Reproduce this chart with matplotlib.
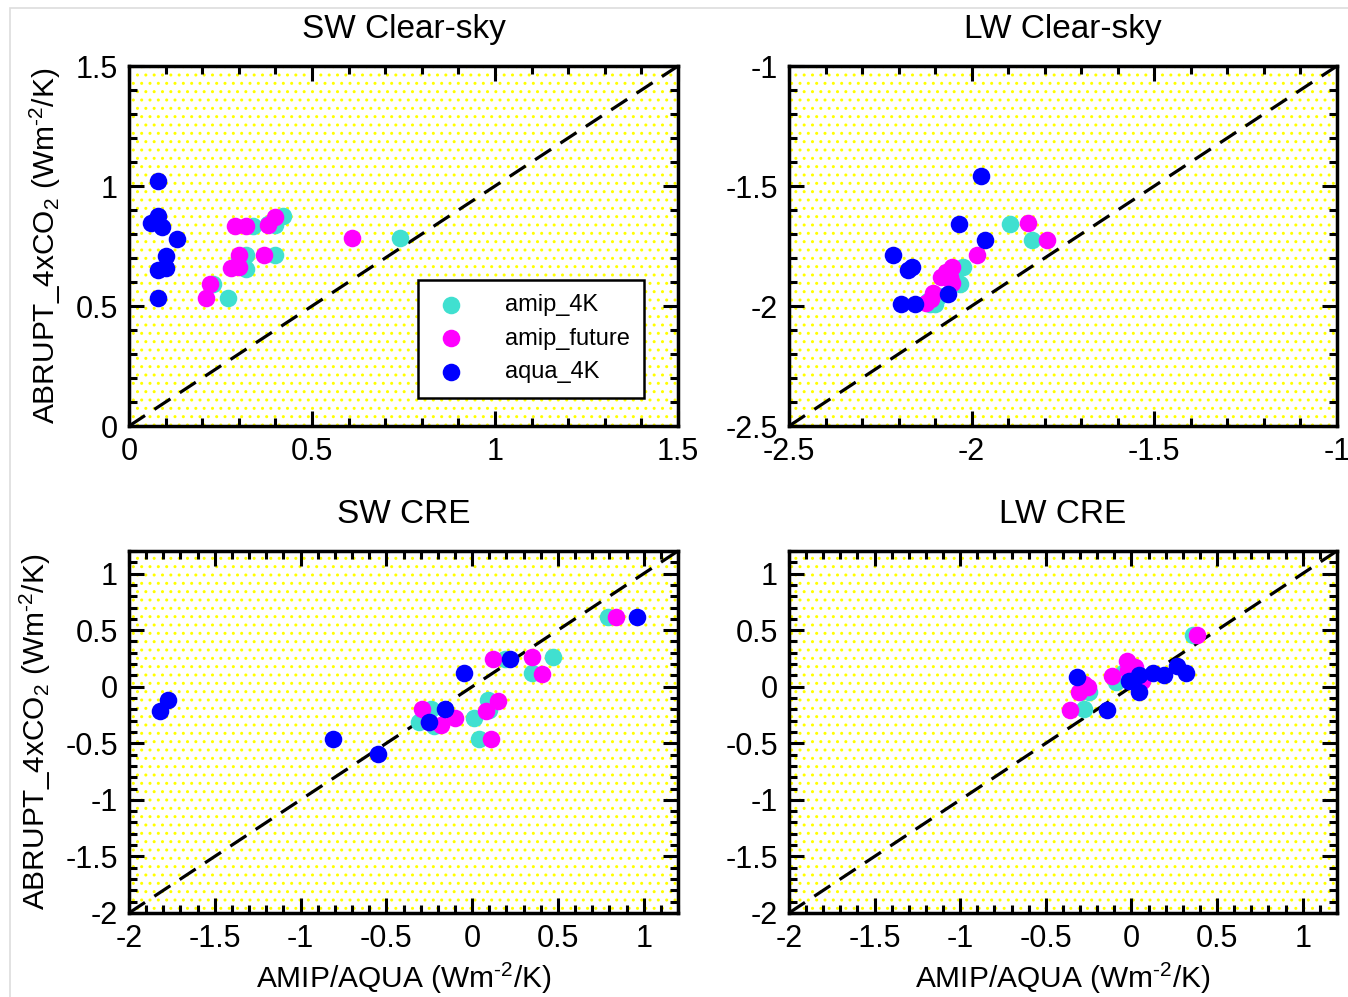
import matplotlib
matplotlib.use("Agg")
import matplotlib.pyplot as plt
from matplotlib.patches import Rectangle
from matplotlib.ticker import MultipleLocator, FormatStrFormatter

plt.rcParams['font.family'] = ['Liberation Sans', 'DejaVu Sans']
plt.rcParams['mathtext.fontset'] = 'custom'
plt.rcParams['mathtext.rm'] = 'Liberation Sans'
plt.rcParams['mathtext.it'] = 'Liberation Sans:italic'
plt.rcParams['axes.unicode_minus'] = False
plt.rcParams['hatch.linewidth'] = 1.0
plt.rcParams['hatch.color'] = '#ffff00'

# feedback parameters (W m-2 K-1): x = AMIP/AQUA, y = abrupt 4xCO2
sw_clr_amip4k_x = [0.42, 0.40, 0.34, 0.74, 0.32, 0.40, 0.32, 0.23, 0.27, 0.38, 0.30]
sw_clr_amip4k_y = [0.875, 0.837, 0.833, 0.782, 0.712, 0.712, 0.653, 0.592, 0.535, 0.84, 0.70]
sw_clr_future_x = [0.29, 0.32, 0.38, 0.40, 0.61, 0.30, 0.37, 0.30, 0.28, 0.22, 0.21]
sw_clr_future_y = [0.833, 0.833, 0.837, 0.872, 0.782, 0.712, 0.712, 0.664, 0.657, 0.592, 0.535]
sw_clr_aqua_x = [0.08, 0.08, 0.06, 0.09, 0.13, 0.10, 0.10, 0.08, 0.08]
sw_clr_aqua_y = [1.02, 0.875, 0.845, 0.83, 0.78, 0.71, 0.66, 0.65, 0.535]

lw_clr_amip4k_x = [-1.896, -1.834, -2.025, -2.033, -2.115, -2.06, -2.09, -2.05, -2.10, -2.12, -2.04]
lw_clr_amip4k_y = [-1.658, -1.726, -1.839, -1.908, -1.992, -1.87, -1.96, -1.85, -1.99, -1.98, -1.90]
lw_clr_future_x = [-1.846, -1.794, -1.984, -2.055, -2.085, -2.055, -2.106, -2.124, -2.07, -2.11, -2.06]
lw_clr_future_y = [-1.655, -1.726, -1.789, -1.839, -1.878, -1.905, -1.947, -1.989, -1.86, -1.97, -1.88]
lw_clr_aqua_x = [-1.975, -2.035, -1.964, -2.215, -2.162, -2.174, -2.194, -2.155, -2.064]
lw_clr_aqua_y = [-1.457, -1.657, -1.726, -1.789, -1.839, -1.85, -1.99, -1.99, -1.951]

sw_cre_amip4k_x = [0.79, 0.19, 0.47, 0.35, 0.09, 0.01, 0.04, -0.24, -0.31, -0.22, 0.10]
sw_cre_amip4k_y = [0.616, 0.246, 0.26, 0.121, -0.118, -0.28, -0.464, -0.198, -0.31, -0.346, -0.21]
sw_cre_future_x = [0.84, 0.12, 0.35, 0.41, 0.15, 0.08, 0.11, -0.29, -0.18, -0.10, -0.25]
sw_cre_future_y = [0.616, 0.246, 0.26, 0.113, -0.124, -0.219, -0.464, -0.198, -0.34, -0.28, -0.31]
sw_cre_aqua_x = [-1.82, -1.77, -0.81, -0.55, -0.05, 0.22, -0.16, -0.25, 0.96]
sw_cre_aqua_y = [-0.216, -0.121, -0.464, -0.597, 0.121, 0.246, -0.198, -0.31, 0.616]

lw_cre_amip4k_x = [0.36, -0.25, -0.28, -0.09, -0.015, 0.0, 0.03, -0.27, -0.30, 0.05, -0.05]
lw_cre_amip4k_y = [0.459, -0.05, -0.198, 0.044, 0.20, 0.15, 0.10, -0.02, -0.05, 0.08, 0.12]
lw_cre_future_x = [0.384, -0.254, -0.308, -0.356, -0.114, -0.027, 0.021, 0.06, 0.0, -0.02, -0.28]
lw_cre_future_y = [0.459, 0.0, -0.044, -0.207, 0.098, 0.231, 0.172, 0.053, 0.12, 0.15, 0.02]
lw_cre_aqua_x = [-0.318, -0.144, -0.017, 0.045, 0.045, 0.124, 0.192, 0.267, 0.318]
lw_cre_aqua_y = [0.083, -0.207, 0.053, 0.104, -0.044, 0.119, 0.106, 0.181, 0.119]

panels = [
    ('SW Clear-sky', (0.0957, 0.5727, 0.4073, 0.3611), (0, 1.5), 0.5,
     sw_clr_amip4k_x, sw_clr_amip4k_y, sw_clr_future_x, sw_clr_future_y, sw_clr_aqua_x, sw_clr_aqua_y),
    ('LW Clear-sky', (0.5853, 0.5727, 0.4065, 0.3611), (-2.5, -1), 0.5,
     lw_clr_amip4k_x, lw_clr_amip4k_y, lw_clr_future_x, lw_clr_future_y, lw_clr_aqua_x, lw_clr_aqua_y),
    ('SW CRE', (0.0957, 0.0843, 0.4073, 0.3631), (-2, 1.2), 0.5,
     sw_cre_amip4k_x, sw_cre_amip4k_y, sw_cre_future_x, sw_cre_future_y, sw_cre_aqua_x, sw_cre_aqua_y),
    ('LW CRE', (0.5853, 0.0843, 0.4065, 0.3631), (-2, 1.2), 0.5,
     lw_cre_amip4k_x, lw_cre_amip4k_y, lw_cre_future_x, lw_cre_future_y, lw_cre_aqua_x, lw_cre_aqua_y),
]

units = r'(Wm$^{\text{-2}}$/K)'

fig = plt.figure(figsize=(13.48, 9.97), dpi=100)
fig.add_artist(Rectangle((10 / 1348, -0.01), 1.1, 1.0 - 8 / 997 + 0.01,
                         transform=fig.transFigure, facecolor='none',
                         edgecolor='#dddddd', lw=1.2))

for i, (title, pos, lim, major, ax_x, ax_y, fu_x, fu_y, aq_x, aq_y) in enumerate(panels):
    ax = fig.add_axes(pos)
    ax.set_facecolor('white')
    ax.add_patch(Rectangle((0, 0), 1, 1, transform=ax.transAxes, facecolor='none',
                           hatch='..', lw=0, zorder=0))
    ax.plot(lim, lim, ls=(0, (6, 3.5)), color='black', lw=2.3, zorder=1)
    ax.scatter(ax_x, ax_y, s=160, color='#40e0d0', lw=0, zorder=2, label='amip_4K')
    ax.scatter(fu_x, fu_y, s=160, color='#ff00ff', lw=0, zorder=3, label='amip_future')
    ax.scatter(aq_x, aq_y, s=160, color='#0000ff', lw=0, zorder=4, label='aqua_4K')

    ax.set_xlim(lim)
    ax.set_ylim(lim)
    for axis in (ax.xaxis, ax.yaxis):
        axis.set_major_locator(MultipleLocator(major))
        axis.set_minor_locator(MultipleLocator(0.1))
        axis.set_major_formatter(FormatStrFormatter('%g'))
    ax.tick_params(which='both', direction='in', top=True, right=True, width=2.2,
                   labelsize=22, pad=8)
    ax.tick_params(which='major', length=11)
    ax.tick_params(which='minor', length=6)
    for sp in ax.spines.values():
        sp.set_linewidth(2.5)

    ax.set_title(title, fontsize=24, pad=20)
    if i % 2 == 0:
        ax.set_ylabel('ABRUPT_4xCO$_2$ ' + units, fontsize=21.5, labelpad=9)
    if i >= 2:
        ax.set_xlabel('AMIP/AQUA ' + units, fontsize=21.5, labelpad=5)
    if i == 0:
        leg = ax.legend(loc='center', bbox_to_anchor=(0.732, 0.243), fontsize=17,
                        fancybox=False, edgecolor='black', framealpha=1,
                        handletextpad=1.5, labelspacing=0.5, borderpad=0.6,
                        borderaxespad=0, scatterpoints=1, markerscale=1.0,
                        handlelength=1.6)
        leg.get_frame().set_linewidth(1.8)
        leg.set_zorder(6)

fig.savefig('out.png', dpi=100)
